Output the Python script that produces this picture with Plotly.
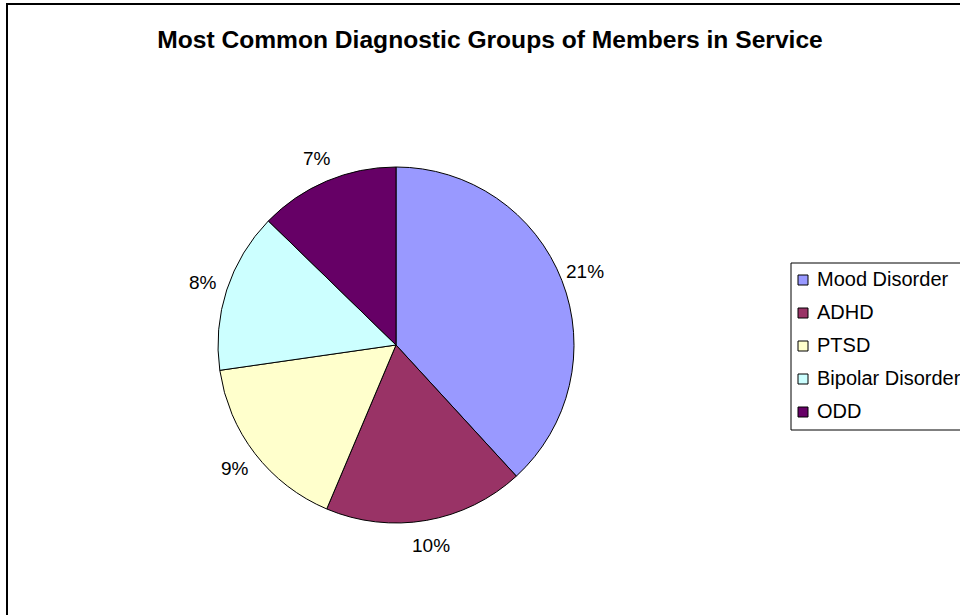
import math
import plotly.graph_objects as go

# Diagnostic groups and share of members in service (%)
groups = ["Mood Disorder", "ADHD", "PTSD", "Bipolar Disorder", "ODD"]
shares = [21, 10, 9, 8, 7]
colors = ["#9999FF", "#993366", "#FFFFCC", "#CCFFFF", "#660066"]

W, H = 960, 615
cx, cy, r = 396, 345, 178  # pie centre and radius in pixels
FONT = "Arial, Liberation Sans, sans-serif"


def px_x(x):
    return x / W


def px_y(y):
    return 1 - y / H


fig = go.Figure(
    go.Pie(
        labels=groups,
        values=shares,
        sort=False,
        direction="clockwise",
        rotation=0,
        marker=dict(colors=colors, line=dict(color="black", width=1)),
        textinfo="none",
        hoverinfo="label+value",
        showlegend=False,
        domain=dict(x=[px_x(cx - r), px_x(cx + r)], y=[px_y(cy + r), px_y(cy - r)]),
    )
)

# Percent labels just outside each slice, at the slice's mid angle
total = sum(shares)
acc = 0
annotations = []
label_r = r + 25
for v in shares:
    mid = (acc + v / 2) / total * 2 * math.pi
    acc += v
    annotations.append(
        dict(
            x=px_x(cx + label_r * math.sin(mid)), y=px_y(cy - label_r * math.cos(mid)),
            xref="paper", yref="paper", text=f"{v}%", showarrow=False,
            xanchor="center", yanchor="middle",
            font=dict(family=FONT, size=19, color="black"),
        )
    )

# Outer chart frame
shapes = [
    dict(
        type="rect", xref="paper", yref="paper",
        x0=px_x(7), x1=1.02, y0=-0.02, y1=px_y(4),
        line=dict(color="black", width=2), fillcolor="rgba(0,0,0,0)",
    )
]

# Legend: framed box with a square swatch and label per group
leg_left, leg_top, row_h, first_row = 791, 263, 33, 279
leg_bottom = first_row + row_h * (len(groups) - 1) + 19
shapes.append(
    dict(
        type="rect", xref="paper", yref="paper",
        x0=px_x(leg_left), x1=1.05, y0=px_y(leg_bottom), y1=px_y(leg_top),
        line=dict(color="black", width=1), fillcolor="white",
    )
)
for i, (g, c) in enumerate(zip(groups, colors)):
    yc = first_row + i * row_h
    shapes.append(
        dict(
            type="rect", xref="paper", yref="paper",
            x0=px_x(798), x1=px_x(808), y0=px_y(yc + 6), y1=px_y(yc - 4),
            line=dict(color="black", width=1), fillcolor=c,
        )
    )
    annotations.append(
        dict(
            x=px_x(815), y=px_y(yc), xref="paper", yref="paper",
            text=g, showarrow=False, xanchor="left", yanchor="middle",
            font=dict(family=FONT, size=20, color="black"),
        )
    )

fig.update_layout(
    width=W, height=H,
    margin=dict(l=0, r=0, t=0, b=0),
    paper_bgcolor="white",
    plot_bgcolor="white",
    title=dict(
        text="<b>Most Common Diagnostic Groups of Members in Service</b>",
        x=px_x(490), xanchor="center", xref="paper",
        y=px_y(39), yanchor="middle",
        font=dict(family=FONT, size=24.6, color="black"),
    ),
    annotations=annotations,
    shapes=shapes,
)

fig.write_html("out.html")
